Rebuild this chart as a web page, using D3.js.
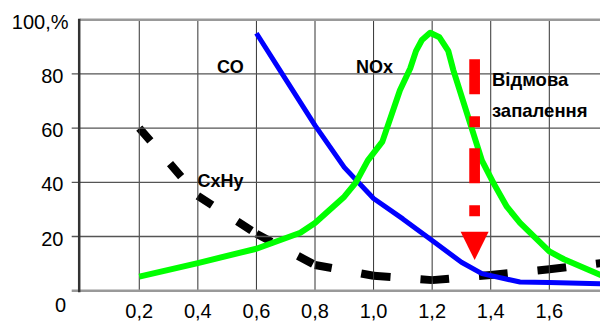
<!DOCTYPE html>
<html>
<head>
<meta charset="utf-8">
<script src="https://cdn.jsdelivr.net/npm/d3@7"></script>
<style>
    body { margin: 0; background: #fff; }
    svg { display: block; font-family: "Liberation Sans", Arial, sans-serif; }
</style>
</head>
<body>
<script>
// ---------------- data ----------------
const xTicks = [0.2, 0.4, 0.6, 0.8, 1.0, 1.2, 1.4, 1.6];
const xTickLabels = ["0,2", "0,4", "0,6", "0,8", "1,0", "1,2", "1,4", "1,6"];
const yTicks = [0, 20, 40, 60, 80, 100];
const yTickLabels = ["0", "20", "40", "60", "80", "100,%"];

// CO (blue)
const coX = [0.6, 0.7, 0.8, 0.9, 1.0, 1.1, 1.2, 1.3, 1.37, 1.5, 1.6, 1.8];
const coY = [95, 78, 61, 45.5, 34, 26.5, 18.5, 10.5, 6.3, 3.2, 3, 2.5];

// NOx (green)
const noxX = [0.2, 0.4, 0.6, 0.75, 0.8, 0.9, 0.94, 0.98, 1.03, 1.09, 1.125, 1.145, 1.165, 1.193,
              1.225, 1.255, 1.272, 1.37, 1.41, 1.455, 1.5, 1.6, 1.65, 1.78];
const noxY = [5.2, 10.2, 15.5, 21.4, 25, 34.7, 40, 48, 55, 74, 82, 88.5, 92.5, 95.2,
              93.5, 88.5, 81.5, 48, 39.6, 31, 25, 14.5, 11.6, 5.6];

// CxHy (black dashed)
const cxhyX = [0.2, 0.4, 0.6, 0.8, 1.0, 1.2, 1.4, 1.6, 1.8];
const cxhyY = [60, 35, 21, 9.5, 5.5, 3.9, 5.8, 7.9, 10.5];

const seriesNames = ["CO", "NOx", "CxHy"];
const noteLines = ["Відмова", "запалення"];

// red arrow: x position, start and end value
const arrowX = 1.345;
const arrowFrom = 85.4;
const arrowTo = 11.3;

// ---------------- drawing ----------------
const width = 600, height = 322;

const svg = d3.select("body").append("svg")
    .attr("width", width)
    .attr("height", height);

const x = d3.scaleLinear().domain([0, 1.6]).range([80.7, 549.3]);
const y = d3.scaleLinear().domain([0, 100]).range([290.7, 19.7]);

const pts = (xs, ys) => xs.map((v, i) => [x(v), y(ys[i])]);
const line = d3.line();

// CxHy: every segment restarts its dash pattern (like the old chart does)
const cxhy = pts(cxhyX, cxhyY);
const cxhyG = svg.append("g");
for (let i = 0; i < cxhy.length - 1; i++) {
    cxhyG.append("path")
        .attr("d", line([cxhy[i], cxhy[i + 1]]))
        .attr("fill", "none")
        .attr("stroke", "#000")
        .attr("stroke-width", 8)
        .attr("stroke-dasharray", "17,30");
}

// grid
const grid = svg.append("g");
grid.selectAll("line.v").data(xTicks).join("line")
    .attr("x1", d => x(d)).attr("x2", d => x(d))
    .attr("y1", y(100)).attr("y2", y(0))
    .attr("stroke", "#333").attr("stroke-width", 1);

grid.selectAll("line.h").data(yTicks.filter(d => d > 0 && d < 100)).join("line")
    .attr("x1", x(0) - 9).attr("x2", width)
    .attr("y1", d => y(d)).attr("y2", d => y(d))
    .attr("stroke", "#555").attr("stroke-width", 1.3);

// top border and bottom axis (grey, thicker)
grid.append("line")
    .attr("x1", x(0) - 1).attr("x2", width)
    .attr("y1", y(100)).attr("y2", y(100))
    .attr("stroke", "#999").attr("stroke-width", 2.5);
grid.append("line")
    .attr("x1", x(0) - 9).attr("x2", width)
    .attr("y1", y(0)).attr("y2", y(0))
    .attr("stroke", "#999").attr("stroke-width", 2.5);

// left axis
grid.append("line")
    .attr("x1", x(0) - 1.5).attr("x2", x(0) - 1.5)
    .attr("y1", y(100) - 1).attr("y2", y(0) + 1.5)
    .attr("stroke", "#333").attr("stroke-width", 2.5);

// CO and NOx
svg.append("path")
    .attr("d", line(pts(coX, coY)))
    .attr("fill", "none")
    .attr("stroke", "#0000ff")
    .attr("stroke-width", 5)
    .attr("stroke-linejoin", "round");

svg.append("path")
    .attr("d", line(pts(noxX, noxY)))
    .attr("fill", "none")
    .attr("stroke", "#00ff00")
    .attr("stroke-width", 6)
    .attr("stroke-linejoin", "round");

// red arrow
const headH = 28.3, headW = 28;
const ax = x(arrowX);
svg.append("line")
    .attr("x1", ax).attr("x2", ax)
    .attr("y1", y(arrowFrom)).attr("y2", y(arrowTo) - headH)
    .attr("stroke", "#ff0000")
    .attr("stroke-width", 10.7)
    .attr("stroke-dasharray", "35,22,11,21");
svg.append("path")
    .attr("d", `M${ax - headW / 2},${y(arrowTo) - headH}L${ax + headW / 2},${y(arrowTo) - headH}L${ax},${y(arrowTo)}Z`)
    .attr("fill", "#ff0000");

// tick labels
svg.append("g").selectAll("text").data(yTicks).join("text")
    .attr("x", d => d === 0 ? 66 : d === 100 ? 68.5 : 63.5)
    .attr("y", d => y(d) + (d === 0 ? 21.3 : 9))
    .attr("text-anchor", "end")
    .attr("font-size", 20)
    .attr("fill", "#000")
    .text((d, i) => yTickLabels[i]);

svg.append("g").selectAll("text").data(xTicks).join("text")
    .attr("x", d => x(d))
    .attr("y", 318.3)
    .attr("text-anchor", "middle")
    .attr("font-size", 20)
    .attr("fill", "#000")
    .text((d, i) => xTickLabels[i]);

// series names and note
const labelAt = [[0.465, 80.4], [0.940, 80.4], [0.399, 38.4]];
svg.append("g").selectAll("text").data(seriesNames).join("text")
    .attr("x", (d, i) => x(labelAt[i][0]))
    .attr("y", (d, i) => y(labelAt[i][1]))
    .attr("font-size", 18)
    .attr("font-weight", "bold")
    .text(d => d);

svg.append("g").selectAll("text").data(noteLines).join("text")
    .attr("x", x(1.404))
    .attr("y", (d, i) => y(75.5) + i * 30.7)
    .attr("font-size", 18.5)
    .attr("font-weight", "bold")
    .text(d => d);
</script>
</body>
</html>
